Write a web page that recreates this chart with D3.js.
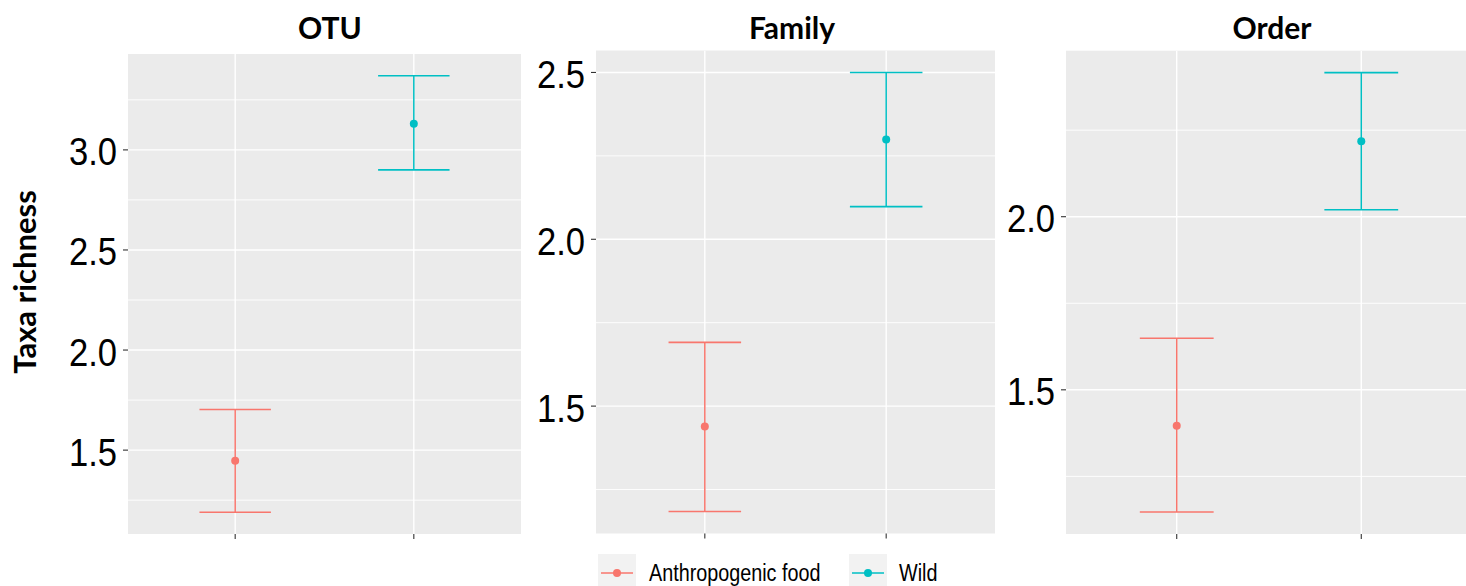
<!DOCTYPE html>
<html>
<head>
<meta charset="utf-8">
<script src="https://cdn.jsdelivr.net/npm/d3@7"></script>
<style>
  html, body { margin: 0; padding: 0; background: #ffffff; }
  svg { display: block; }
</style>
</head>
<body>
<svg id="chart" width="1466" height="586"></svg>
<script>
// Taxonomic levels shown as separate panels
const panelTitles = ["OTU", "Family", "Order"];
// Diet groups (x categories)
const groups = ["Anthropogenic food", "Wild"];
const groupColors = ["#F8766D", "#00BFC4"];

// Mean richness and interval bounds, one value per panel
const meanAnthro  = [1.447, 1.439, 1.396];
const lowerAnthro = [1.190, 1.184, 1.147];
const upperAnthro = [1.703, 1.691, 1.649];
const meanWild    = [3.130, 2.299, 2.218];
const lowerWild   = [2.900, 2.098, 2.020];
const upperWild   = [3.370, 2.500, 2.416];

// Labelled y ticks per panel
const tickLabels = [
  [1.5, 2.0, 2.5, 3.0],
  [1.5, 2.0, 2.5],
  [1.5, 2.0]
];

const yTitle = "Taxa richness";

// Panel rectangles and title centres
const panels = [
  { x0: 128,  x1: 521,  y0: 54,   y1: 534,   titleX: 330 },
  { x0: 596,  x1: 995,  y0: 50.5, y1: 533.5, titleX: 792 },
  { x0: 1066, x1: 1472, y0: 50.7, y1: 534,   titleX: 1272 }
];

const svg = d3.select("#chart");
const fmt = d3.format(".1f");

panels.forEach((p, i) => {
  const rows = [
    { group: groups[0], mean: meanAnthro[i], lo: lowerAnthro[i], hi: upperAnthro[i], color: groupColors[0] },
    { group: groups[1], mean: meanWild[i],   lo: lowerWild[i],   hi: upperWild[i],   color: groupColors[1] }
  ];
  const minV = d3.min(rows, d => d.lo);
  const maxV = d3.max(rows, d => d.hi);
  const pad = (maxV - minV) * 0.05;

  const x = d3.scalePoint().domain(groups).range([p.x0, p.x1]).padding(0.6);
  const y = d3.scaleLinear().domain([minV - pad, maxV + pad]).range([p.y1, p.y0]);

  const g = svg.append("g");

  g.append("defs").append("clipPath").attr("id", "clip" + i)
    .append("rect").attr("x", p.x0).attr("y", p.y0)
    .attr("width", p.x1 - p.x0).attr("height", p.y1 - p.y0);

  // panel background
  g.append("rect")
    .attr("x", p.x0).attr("y", p.y0)
    .attr("width", p.x1 - p.x0).attr("height", p.y1 - p.y0)
    .attr("fill", "#EBEBEB");

  const inner = g.append("g").attr("clip-path", `url(#clip${i})`);

  // minor grid: midpoints between major breaks
  const majors = tickLabels[i];
  const step = majors[1] - majors[0];
  const dom = y.domain();
  const minors = [];
  for (let v = majors[0] - step / 2; v <= dom[1]; v += step) {
    if (v >= dom[0] && v <= dom[1]) minors.push(v);
  }
  inner.selectAll(".minor").data(minors).enter().append("line")
    .attr("x1", p.x0).attr("x2", p.x1)
    .attr("y1", d => y(d)).attr("y2", d => y(d))
    .attr("stroke", "#ffffff").attr("stroke-width", 0.9);

  inner.selectAll(".major").data(majors).enter().append("line")
    .attr("x1", p.x0).attr("x2", p.x1)
    .attr("y1", d => y(d)).attr("y2", d => y(d))
    .attr("stroke", "#ffffff").attr("stroke-width", 1.4);

  inner.selectAll(".vmajor").data(groups).enter().append("line")
    .attr("x1", d => x(d)).attr("x2", d => x(d))
    .attr("y1", p.y0).attr("y2", p.y1)
    .attr("stroke", "#ffffff").attr("stroke-width", 1.4);

  // error bars
  const capHalf = x.step() * 0.2;
  const eb = inner.selectAll(".eb").data(rows).enter().append("g");
  eb.append("line")
    .attr("x1", d => x(d.group)).attr("x2", d => x(d.group))
    .attr("y1", d => y(d.lo)).attr("y2", d => y(d.hi))
    .attr("stroke", d => d.color).attr("stroke-width", 1.5);
  eb.append("line")
    .attr("x1", d => x(d.group) - capHalf).attr("x2", d => x(d.group) + capHalf)
    .attr("y1", d => y(d.hi)).attr("y2", d => y(d.hi))
    .attr("stroke", d => d.color).attr("stroke-width", 1.6);
  eb.append("line")
    .attr("x1", d => x(d.group) - capHalf).attr("x2", d => x(d.group) + capHalf)
    .attr("y1", d => y(d.lo)).attr("y2", d => y(d.lo))
    .attr("stroke", d => d.color).attr("stroke-width", 1.6);
  eb.append("circle")
    .attr("cx", d => x(d.group)).attr("cy", d => y(d.mean))
    .attr("r", 4).attr("fill", d => d.color);

  // y axis ticks and labels
  g.selectAll(".ytick").data(majors).enter().append("line")
    .attr("x1", p.x0 - 5).attr("x2", p.x0)
    .attr("y1", d => y(d)).attr("y2", d => y(d))
    .attr("stroke", "#333333").attr("stroke-width", 1.1);
  g.selectAll(".ylab").data(majors).enter().append("text")
    .attr("transform", d => `translate(${p.x0 - 11},${y(d) + 15.5}) scale(0.91,1)`)
    .attr("text-anchor", "end")
    .attr("font-family", "Liberation Sans, Arial, sans-serif")
    .attr("font-size", 38)
    .attr("fill", "#000000")
    .text(d => fmt(d));

  // x axis ticks (no labels)
  g.selectAll(".xtick").data(groups).enter().append("line")
    .attr("x1", d => x(d)).attr("x2", d => x(d))
    .attr("y1", p.y1).attr("y2", p.y1 + 5)
    .attr("stroke", "#333333").attr("stroke-width", 1.1);

  // panel title
  g.append("text")
    .attr("x", p.titleX).attr("y", 39)
    .attr("text-anchor", "middle")
    .attr("font-family", "Lato, sans-serif")
    .attr("font-weight", "bold")
    .attr("font-size", 30)
    .attr("fill", "#000000")
    .text(panelTitles[i]);
});

// shared y-axis title
svg.append("text")
  .attr("transform", "translate(36,282) rotate(-90)")
  .attr("text-anchor", "middle")
  .attr("font-family", "Lato, sans-serif")
  .attr("font-weight", "bold")
  .attr("font-size", 31)
  .attr("fill", "#000000")
  .text(yTitle);

// legend
const legendKeys = [
  { x: 598, textX: 649 },
  { x: 849, textX: 899 }
];
groups.forEach((name, k) => {
  const L = legendKeys[k];
  const lg = svg.append("g");
  lg.append("rect")
    .attr("x", L.x).attr("y", 554).attr("width", 38).attr("height", 38)
    .attr("fill", "#F2F2F2");
  lg.append("line")
    .attr("x1", L.x + 3).attr("x2", L.x + 35)
    .attr("y1", 573).attr("y2", 573)
    .attr("stroke", groupColors[k]).attr("stroke-width", 1.5);
  lg.append("circle")
    .attr("cx", L.x + 19).attr("cy", 573).attr("r", 4)
    .attr("fill", groupColors[k]);
  lg.append("text")
    .attr("transform", `translate(${L.textX},581) scale(0.86,1)`)
    .attr("font-family", "Liberation Sans, Arial, sans-serif")
    .attr("font-size", 23)
    .attr("fill", "#000000")
    .text(name);
});
</script>
</body>
</html>
